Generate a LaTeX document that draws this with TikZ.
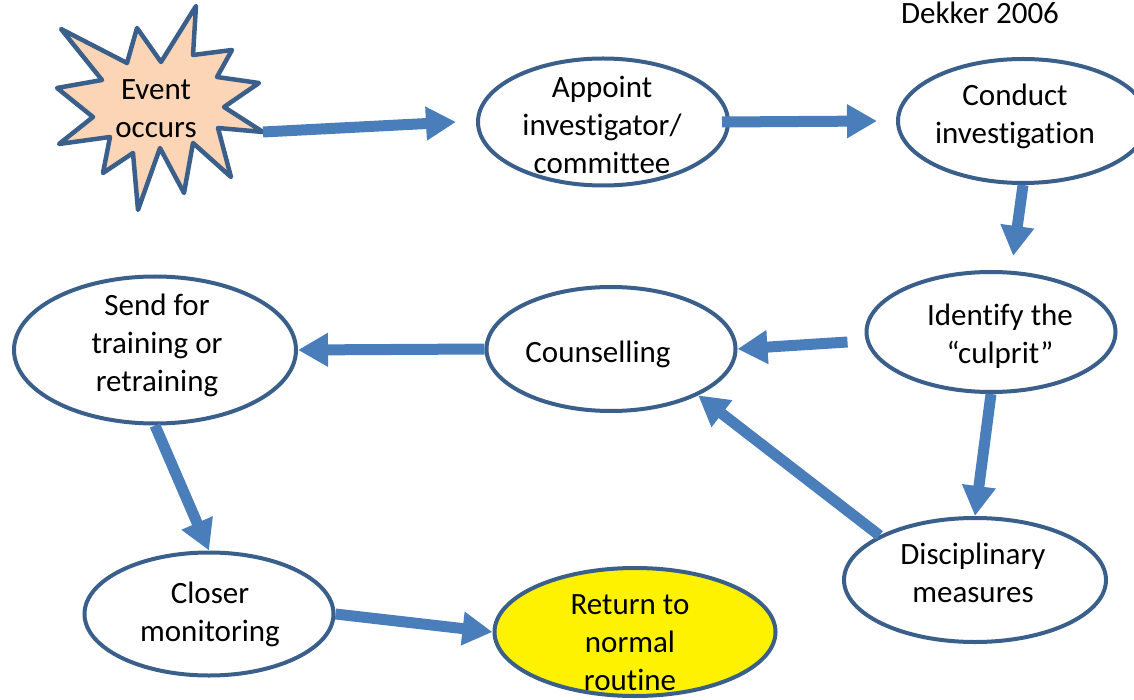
\documentclass[tikz,border=0pt]{standalone}
\usepackage{fontspec}
\setmainfont{Carlito}[Ligatures={NoCommon,NoContextual}]
\usepackage{tikz}
\usetikzlibrary{arrows.meta, calc, shapes.geometric}

\definecolor{flowblue}{HTML}{4A7EBB}
\definecolor{rimblue}{HTML}{3A5F8B}
\definecolor{peach}{HTML}{FBD5B5}

\tikzset{
  stage/.style={ellipse, draw=rimblue, line width=4pt, fill=white, inner sep=0pt},
  words/.style={align=center, inner sep=0pt, font=\fontsize{31}{38}\selectfont},
  flow/.style={draw=flowblue, line width=11pt, -{Triangle[length=30pt,width=32pt]}}
}

\begin{document}
\begin{tikzpicture}[x=1pt, y=-1pt]
\useasboundingbox (0,0) rectangle (1134,700);
% the burst
\draw[rimblue, fill=peach, line width=4.5pt, line join=round]
(61,29)--(127,63)--(137,28)--(161,62)--(196,6)--(193,55)--(232,50)--(217,77)
--(259,83)--(224,107)--(263,132)--(218,128)--(231,177)--(193,143)--(184,193)
--(160,148)--(138,210)--(133,153)--(103,173)--(110,137)--(59,144)--(93,117)
--(57,88)--(102,80)--cycle;
\coordinate (burst tip) at (263,132);
\node[words] (event) at (156,109) {Event\\occurs};
\node[words, anchor=base] (source) at (980,24) {Dekker 2006};
% the stages
\node[stage, minimum width=250pt, minimum height=127pt] (appoint) at (603,122) {};
\node[stage, minimum width=250pt, minimum height=124pt] (conduct) at (1023,121) {};
\node[stage, minimum width=249pt, minimum height=120pt] (identify) at (991,332) {};
\node[stage, minimum width=249pt, minimum height=124pt] (counselling) at (611,349) {};
\node[stage, minimum width=282pt, minimum height=147pt] (send) at (155,350) {};
\node[stage, minimum width=249pt, minimum height=123pt] (closer) at (209,614) {};
\node[stage, minimum width=262pt, minimum height=124pt] (disciplinary) at (975,580) {};
\node[stage, fill=yellow, minimum width=281pt, minimum height=128pt] (return) at (635,632) {};
\node[words] (appoint text) at (602,125) {Appoint\\investigator/\\committee};
\node[words] (conduct text) at (1015,116) {Conduct\\investigation};
\node[words] (identify text) at (1000,336) {Identify the\\“culprit”};
\node[words] (counselling text) at (598,354) {Counselling};
\node[words] (send text) at (157,345) {Send for\\training or\\retraining};
\node[words] (closer text) at (210,614) {Closer\\monitoring};
\node[words] (disciplinary text) at (973,573) {Disciplinary\\measures};
\node[words] (return text) at (630,643) {Return to\\normal\\routine};
% the arrows
\draw[flow] (burst tip) -- ([xshift=-20pt]appoint.west);
\draw[flow] ([xshift=-8pt]appoint.east) -- ([xshift=-19pt]conduct.west);
\draw[flow] (conduct.south) -- ([yshift=15pt]identify.70);
\draw[flow] ($(identify.west)+(-17,10)$) -- (counselling.east);
\draw[flow] (counselling.west) -- (send.east);
\draw[flow] (send.south) -- (closer.north);
\draw[flow] (closer.east) -- (return.west);
\draw[flow] (identify.south) -- (disciplinary.north);
\draw[flow] (disciplinary.155) -- (counselling.-28);
\end{tikzpicture}
\end{document}
